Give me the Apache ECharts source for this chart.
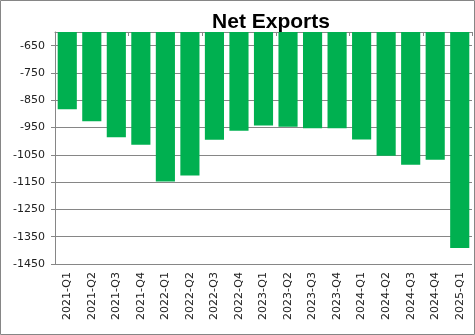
<!DOCTYPE html>
<html><head><meta charset="utf-8">
<script src="https://cdn.jsdelivr.net/npm/echarts@6/dist/echarts.min.js"></script>
<style>html,body{margin:0;padding:0;background:#fff}#c{width:475px;height:335px}</style>
</head><body><div id="c"></div>
<script>
var categories = ["2021-Q1","2021-Q2","2021-Q3","2021-Q4","2022-Q1","2022-Q2","2022-Q3","2022-Q4","2023-Q1","2023-Q2","2023-Q3","2023-Q4","2024-Q1","2024-Q2","2024-Q3","2024-Q4","2025-Q1"];
var netExports = [-883,-927,-986,-1013,-1148,-1126,-995,-962,-943,-947,-953,-953,-994,-1053,-1086,-1068,-1391];
var yMin = -1450, yMax = -600, yStep = 100;
var titleText = "Net Exports";

var chart = echarts.init(document.getElementById('c'), null, {renderer:'canvas'});
var gray = '#868686';
chart.setOption({
  animation:false,
  backgroundColor:'#fff',
  title:{text:titleText,left:266,top:7,textAlign:'center',
    textStyle:{fontFamily:'Liberation Sans',fontWeight:'bold',fontSize:21,color:'#000'}},
  graphic:[{type:'rect',shape:{x:0.5,y:0.5,width:474,height:334},style:{fill:'none',stroke:gray,lineWidth:1},silent:true}],
  grid:{left:55,right:3,top:32,bottom:71,containLabel:false},
  xAxis:[
    {type:'category',data:categories,position:'top',
     axisLine:{show:true,onZero:false,lineStyle:{color:gray,width:1}},
     axisTick:{show:true,inside:true,length:4,lineStyle:{color:gray}},
     axisLabel:{show:false},splitLine:{show:false}},
    {type:'category',data:categories,position:'bottom',
     axisLine:{show:false},axisTick:{show:false},splitLine:{show:false},
     axisLabel:{show:true,rotate:90,margin:8,interval:0,fontFamily:'DejaVu Sans',fontSize:11,color:'#222'}}
  ],
  yAxis:{type:'value',min:yMin,max:yMax,interval:yStep,
    axisLine:{show:true,lineStyle:{color:gray}},
    axisTick:{show:true,length:4,lineStyle:{color:gray}},
    axisLabel:{showMaxLabel:false,margin:10,fontFamily:'DejaVu Sans',fontSize:11,color:'#222',
      formatter:function(v){return String(v);}},
    splitLine:{show:true,lineStyle:{color:gray,width:1}}},
  series:[{type:'bar',xAxisIndex:0,data:netExports,barCategoryGap:'22%',clip:true,
    itemStyle:{color:'#00B050'}}]
});
</script></body></html>
